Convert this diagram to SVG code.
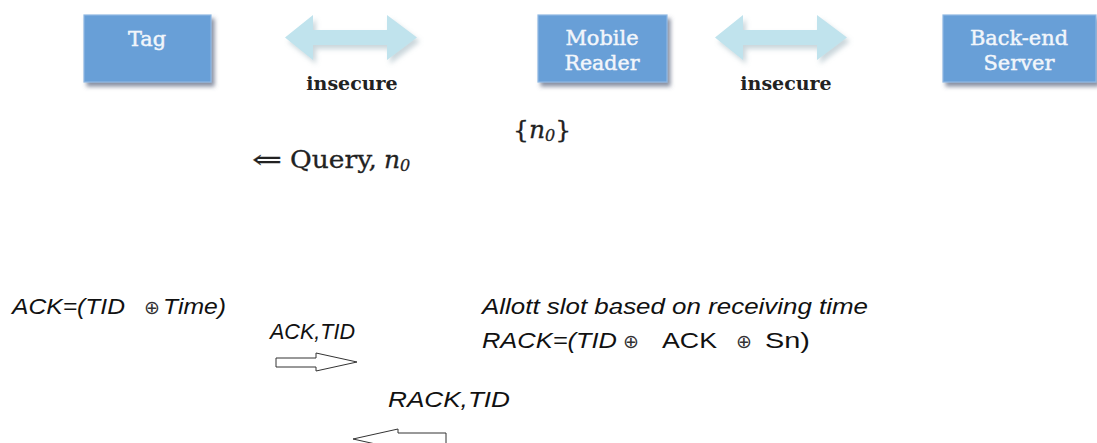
<svg xmlns="http://www.w3.org/2000/svg" width="1097" height="443" viewBox="0 0 1097 443">
  <defs>
    <filter id="boxShadow" x="-10%" y="-10%" width="130%" height="140%">
      <feGaussianBlur in="SourceAlpha" stdDeviation="2.2"/>
      <feOffset dx="3" dy="4" result="b"/>
      <feFlood flood-color="#55607a" flood-opacity="0.7"/>
      <feComposite in2="b" operator="in"/>
      <feMerge><feMergeNode/><feMergeNode in="SourceGraphic"/></feMerge>
    </filter>
    <filter id="arrowShadow" x="-10%" y="-20%" width="130%" height="150%">
      <feGaussianBlur in="SourceAlpha" stdDeviation="2.5"/>
      <feOffset dx="3" dy="4" result="b"/>
      <feFlood flood-color="#8aa4b0" flood-opacity="0.45"/>
      <feComposite in2="b" operator="in"/>
      <feMerge><feMergeNode/><feMergeNode in="SourceGraphic"/></feMerge>
    </filter>
  </defs>
  <style>
    .box { fill: #679fd7; stroke: #8fb8e3; stroke-width: 1.2; }
    .boxlabel { font-family: "DejaVu Serif", serif; font-size: 20px; fill: #f2f6fb; stroke: #f2f6fb; stroke-width: 0.45; text-anchor: middle; }
    .link { fill: #c0e3ed; }
    .channel { font-family: "DejaVu Serif", serif; font-weight: bold; font-size: 19px; fill: #222; text-anchor: middle; }
    .math { font-family: "DejaVu Serif", serif; font-size: 25px; fill: #222; stroke: #222; stroke-width: 0.3; }
    .msg { font-family: "Liberation Sans", Arial, sans-serif; font-style: italic; font-size: 22px; fill: #111; }
    .xor { font-family: "DejaVu Sans", sans-serif; font-style: normal; font-size: 19px; fill: #333; }
    .flow { fill: #fff; stroke: #333; stroke-width: 1; }
  </style>
  <rect width="1097" height="443" fill="#fff"/>

  <!-- parties -->
  <g id="tag">
    <rect class="box" x="84" y="15" width="127" height="67" filter="url(#boxShadow)"/>
    <text class="boxlabel" x="147" y="46" textLength="38" lengthAdjust="spacingAndGlyphs">Tag</text>
  </g>
  <g id="mobile-reader">
    <rect class="box" x="538" y="15" width="129" height="67" filter="url(#boxShadow)"/>
    <text class="boxlabel" x="602" y="45" textLength="73" lengthAdjust="spacingAndGlyphs">Mobile</text>
    <text class="boxlabel" x="602" y="70" textLength="75" lengthAdjust="spacingAndGlyphs">Reader</text>
  </g>
  <g id="backend-server">
    <rect class="box" x="943" y="15" width="153" height="67" filter="url(#boxShadow)"/>
    <text class="boxlabel" x="1019" y="45" textLength="98" lengthAdjust="spacingAndGlyphs">Back-end</text>
    <text class="boxlabel" x="1019" y="70" textLength="71" lengthAdjust="spacingAndGlyphs">Server</text>
  </g>

  <!-- channels and messages -->
  <g id="connectors">
    <polygon class="link" filter="url(#arrowShadow)" points="285,37.5 313,15 313,30 387,30 387,15 417,37.5 387,60 387,45 313,45 313,60"/>
    <text class="channel" x="352" y="90">insecure</text>
    <polygon class="link" filter="url(#arrowShadow)" points="715,37.5 743,15 743,30 817,30 817,15 847,37.5 817,60 817,45 743,45 743,60"/>
    <text class="channel" x="786" y="90">insecure</text>

    <text class="math" y="138"><tspan x="513">{</tspan><tspan font-style="italic">n</tspan><tspan font-style="italic" font-size="16" dy="3">0</tspan><tspan dy="-3">}</tspan></text>
    <text class="math" y="168"><tspan x="252" textLength="30" lengthAdjust="spacingAndGlyphs">⇐</tspan><tspan x="290" textLength="87" lengthAdjust="spacingAndGlyphs">Query,</tspan><tspan x="384" font-style="italic">n</tspan><tspan font-style="italic" font-size="16" dy="3">0</tspan></text>

    <text class="msg" y="314"><tspan x="12" textLength="113" lengthAdjust="spacingAndGlyphs">ACK=(TID</tspan><tspan class="xor" x="144">⊕</tspan><tspan x="163" textLength="63" lengthAdjust="spacingAndGlyphs">Time)</tspan></text>

    <text class="msg" x="270" y="339" font-size="19" textLength="85" lengthAdjust="spacingAndGlyphs">ACK,TID</text>
    <polygon class="flow" points="276,358 316,358 316,353 357,362 316,371 316,367 276,367"/>

    <text class="msg" x="482" y="314" textLength="386" lengthAdjust="spacingAndGlyphs">Allott slot based on receiving time</text>
    <text class="msg" y="348"><tspan x="482" textLength="135" lengthAdjust="spacingAndGlyphs">RACK=(TID</tspan><tspan class="xor" x="623">⊕</tspan><tspan x="662" font-style="normal" textLength="55" lengthAdjust="spacingAndGlyphs">ACK</tspan><tspan class="xor" x="736">⊕</tspan><tspan x="765" font-style="normal" textLength="45" lengthAdjust="spacingAndGlyphs">Sn)</tspan></text>

    <text class="msg" x="388" y="407" textLength="122" lengthAdjust="spacingAndGlyphs">RACK,TID</text>
    <polygon class="flow" points="446,433 398,433 398,429 353,439 398,449 398,445 446,445"/>
  </g>
</svg>
